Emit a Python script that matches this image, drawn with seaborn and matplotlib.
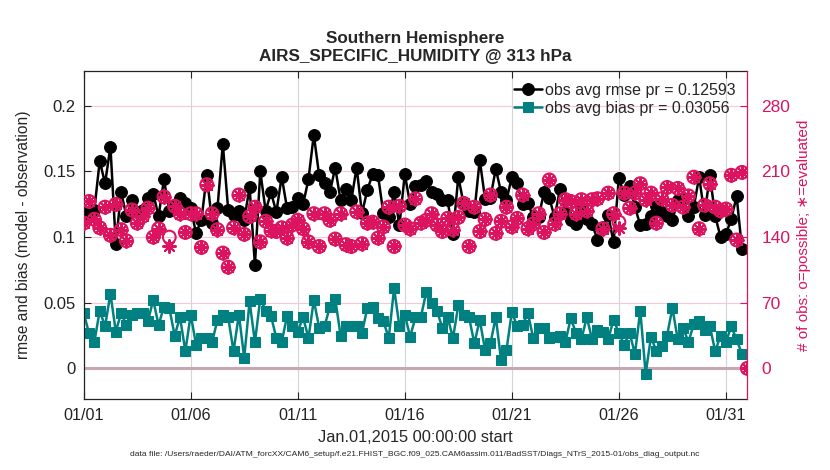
import pandas as pd
import matplotlib
matplotlib.use('Agg')
import matplotlib.pyplot as plt
import matplotlib.dates as mdates
import seaborn as sns

# --- data (6-hourly bins, Jan 1 - Feb 1 2015) ---
times = pd.date_range('2015-01-01 00:00', '2015-02-01 00:00', freq='6h')

rmse = [0.117, 0.119, 0.121, 0.158, 0.141, 0.169, 0.095, 0.134, 0.116, 0.128,
        0.119, 0.121, 0.130, 0.133, 0.116, 0.144, 0.120, 0.124, 0.130, 0.126,
        0.122, 0.103, 0.113, 0.147, 0.111, 0.122, 0.171, 0.121, 0.117, 0.120,
        0.113, 0.138, 0.079, 0.150, 0.120, 0.134, 0.119, 0.146, 0.122, 0.123,
        0.130, 0.125, 0.144, 0.178, 0.147, 0.141, 0.134, 0.153, 0.128, 0.137,
        0.128, 0.153, 0.118, 0.136, 0.148, 0.147, 0.118, 0.115, 0.134, 0.109,
        0.148, 0.125, 0.139, 0.140, 0.143, 0.134, 0.133, 0.128, 0.128, 0.102,
        0.146, 0.125, 0.120, 0.119, 0.159, 0.129, 0.130, 0.152, 0.134, 0.128,
        0.146, 0.141, 0.125, 0.126, 0.115, 0.115, 0.134, 0.130, 0.115, 0.137,
        0.118, 0.113, 0.110, 0.121, 0.114, 0.110, 0.098, 0.108, 0.117, 0.096,
        0.145, 0.132, 0.139, 0.123, 0.109, 0.110, 0.116, 0.124, 0.119, 0.116,
        0.113, 0.128, 0.130, 0.116, 0.123, 0.146, 0.117, 0.147, 0.116, 0.100,
        0.102, 0.114, 0.131, 0.091]

bias = [0.042, 0.027, 0.020, 0.044, 0.032, 0.057, 0.028, 0.042, 0.033, 0.041,
        0.042, 0.042, 0.036, 0.052, 0.033, 0.047, 0.046, 0.025, 0.039, 0.013,
        0.041, 0.018, 0.023, 0.023, 0.020, 0.037, 0.041, 0.039, 0.013, 0.041,
        0.008, 0.051, 0.020, 0.053, 0.044, 0.040, 0.023, 0.020, 0.040, 0.032,
        0.028, 0.039, 0.023, 0.052, 0.031, 0.032, 0.047, 0.053, 0.025, 0.032,
        0.032, 0.032, 0.027, 0.046, 0.047, 0.038, 0.036, 0.023, 0.061, 0.032,
        0.041, 0.024, 0.039, 0.039, 0.058, 0.050, 0.044, 0.031, 0.039, 0.023,
        0.048, 0.041, 0.039, 0.019, 0.037, 0.014, 0.019, 0.039, 0.006, 0.014,
        0.043, 0.032, 0.033, 0.042, 0.023, 0.031, 0.031, 0.023, 0.024, 0.025,
        0.020, 0.038, 0.027, 0.022, 0.039, 0.022, 0.029, 0.028, 0.022, 0.037,
        0.027, 0.018, 0.027, 0.011, 0.044, -0.004, 0.024, 0.013, 0.017, 0.025,
        0.046, 0.022, 0.031, 0.020, 0.034, 0.036, 0.029, 0.032, 0.013, 0.025,
        0.020, 0.032, 0.022, 0.011]

obs_possible = [155, 178, 159, 150, 172, 142, 175, 148, 136, 169,
                155, 162, 171, 140, 149, 183, 140, 173, 165, 145,
                165, 165, 129, 196, 165, 148, 123, 108, 150, 185,
                143, 162, 172, 135, 157, 147, 146, 150, 139, 153,
                158, 149, 135, 165, 130, 165, 158, 138, 165, 132,
                130, 167, 133, 155, 156, 139, 151, 172, 130, 173,
                153, 149, 181, 155, 158, 165, 153, 146, 160, 148,
                161, 176, 130, 172, 146, 159, 185, 144, 157, 172,
                151, 160, 185, 149, 154, 165, 145, 201, 154, 165,
                180, 178, 165, 180, 168, 180, 181, 149, 187, 165,
                156, 187, 171, 187, 197, 180, 187, 155, 181, 193,
                174, 192, 172, 184, 204, 149, 174, 197, 172, 168,
                170, 206, 137, 209, 0]

obs_used = [155, 178, 159, 150, 172, 142, 175, 148, 136, 169,
            155, 162, 171, 140, 149, 183, 131, 173, 165, 145,
            165, 165, 129, 196, 165, 148, 123, 108, 150, 185,
            143, 162, 172, 135, 157, 147, 146, 150, 139, 153,
            158, 149, 135, 165, 130, 165, 158, 138, 165, 132,
            130, 167, 133, 155, 156, 139, 151, 172, 130, 173,
            153, 149, 181, 155, 158, 165, 153, 146, 160, 148,
            161, 176, 130, 172, 146, 159, 185, 144, 157, 172,
            151, 160, 185, 149, 154, 165, 145, 201, 154, 165,
            180, 178, 165, 180, 168, 180, 181, 149, 187, 165,
            150, 187, 171, 187, 197, 180, 187, 155, 181, 193,
            174, 192, 172, 184, 204, 149, 174, 197, 172, 168,
            170, 206, 137, 209, 0]

rmse_label = 'obs avg rmse pr = 0.12593'
bias_label = 'obs avg bias pr = 0.03056'
xtick_days = ['2015-01-01', '2015-01-06', '2015-01-11', '2015-01-16',
              '2015-01-21', '2015-01-26', '2015-01-31']
right_ticks = [0, 70, 140, 210, 280]
left_ticks = [0, 0.05, 0.1, 0.15, 0.2]

df = pd.DataFrame({'time': times[:-1], 'rmse': rmse, 'bias': bias})
df_obs = pd.DataFrame({'time': times, 'possible': obs_possible, 'used': obs_used})

crimson = '#DC1460'
teal = '#008080'

sns.set_style('white')
plt.rcParams['font.family'] = ['Liberation Sans', 'DejaVu Sans']

fig = plt.figure(figsize=(8.3, 4.7), dpi=100)
ax = fig.add_axes([0.1008, 0.1504, 0.7996, 0.6992])

# grid: grey verticals, pink horizontals, mauve zero line
ax.set_xticks(pd.to_datetime(xtick_days))
ax.set_yticks(left_ticks)
ax.xaxis.grid(True, color='#d4d4d4', lw=0.8)
ax.yaxis.grid(True, color='#f6c8d8', lw=0.8)
ax.set_axisbelow(True)
ax.axhline(0, color='#c9a6b0', lw=2.2, zorder=1)

sns.lineplot(data=df, x='time', y='rmse', ax=ax, color='black', lw=1.8,
             marker='o', markersize=8.5, markeredgecolor='black', label=rmse_label)
sns.lineplot(data=df, x='time', y='bias', ax=ax, color=teal, lw=1.8,
             marker='s', markersize=7.5, markeredgecolor=teal, label=bias_label)

ax.set_xlim(times[0], times[-1])
ax.set_ylim(-0.0236, 0.2268)
ax.xaxis.set_major_formatter(mdates.DateFormatter('%m/%d'))
ax.set_yticklabels(['0', '0.05', '0.1', '0.15', '0.2'])
ax.tick_params(direction='in', length=5, width=0.8, labelsize=12, pad=6,
               top=True, bottom=True, left=True, right=False, colors='#222222')
ax.tick_params(axis='x', labelsize=11.6)
ax.set_xlabel('Jan.01,2015 00:00:00 start', fontsize=11.8, labelpad=5)
ax.set_ylabel('rmse and bias (model - observation)', fontsize=11.2, labelpad=9)
ax.set_title('Southern Hemisphere\nAIRS_SPECIFIC_HUMIDITY @ 313 hPa',
             fontsize=12.3, fontweight='bold', pad=7, linespacing=1.25)
for s in ax.spines.values():
    s.set_color('#222222')
    s.set_linewidth(0.9)
ax.legend(loc='upper right', frameon=False, fontsize=11.5, handlelength=1.7,
          handletextpad=0.2, borderaxespad=0.35, labelspacing=0.2)

# right axis: observation counts
ax2 = ax.twinx()
ax2.patch.set_visible(False)
sns.scatterplot(data=df_obs, x='time', y='possible', ax=ax2, marker='o', s=85,
                facecolor='none', edgecolor=crimson, linewidth=1.5, legend=False)
sns.scatterplot(data=df_obs, x='time', y='used', ax=ax2, marker=(8, 2, 0), s=85,
                color=crimson, edgecolor=crimson, linewidth=1.5, legend=False)
ax2.set_ylim(-0.0236 * 1400, 0.2268 * 1400)
ax2.set_yticks(right_ticks)
ax2.set_xlim(times[0], times[-1])
ax2.tick_params(axis='y', direction='in', length=5, width=0.8, colors=crimson,
                labelsize=12.5, pad=10)
ax2.set_ylabel('# of obs: o=possible; \u2217=evaluated', color=crimson,
               fontsize=11, labelpad=5)
ax2.set_xlabel('')
for name in ['left', 'top', 'bottom']:
    ax2.spines[name].set_visible(False)
ax2.spines['right'].set_color(crimson)
ax2.spines['right'].set_linewidth(0.9)
ax.spines['right'].set_visible(False)

fig.text(0.5, 1 - 455 / 470,
         'data file: /Users/raeder/DAI/ATM_forcXX/CAM6_setup/f.e21.FHIST_BGC.f09_025.'
         'CAM6assim.011/BadSST/Diags_NTrS_2015-01/obs_diag_output.nc',
         ha='center', va='center', fontsize=6.1)

fig.savefig('out.png', dpi=100)
